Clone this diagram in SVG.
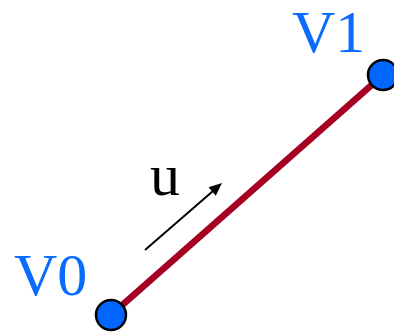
<svg xmlns="http://www.w3.org/2000/svg" width="394" height="334" viewBox="0 0 394 334">
<style>
.lbl{font-family:"Liberation Serif","Times New Roman",serif;font-size:60px;fill:#0A6CFF}
.vtx{fill:#0066FF;stroke:#000;stroke-width:2.5}
</style>
<g id="connectors">
<line x1="111" y1="315" x2="383" y2="75" stroke="#A50021" stroke-width="6.5"/>
<line x1="145" y1="250" x2="213" y2="191" stroke="#000" stroke-width="2"/>
<path d="M222,183 L215.8,195.7 L208.6,187.3 Z" fill="#000"/>
</g>
<g id="V0">
<circle class="vtx" cx="111" cy="315" r="15"/>
<text class="lbl" x="14" y="295">V0</text>
</g>
<g id="V1">
<circle class="vtx" cx="383" cy="75" r="15"/>
<text class="lbl" x="292" y="52">V1</text>
</g>
<g id="u">
<text x="150" y="195" style="font-family:'Liberation Serif','Times New Roman',serif;font-size:60px;fill:#000">u</text>
</g>
</svg>
